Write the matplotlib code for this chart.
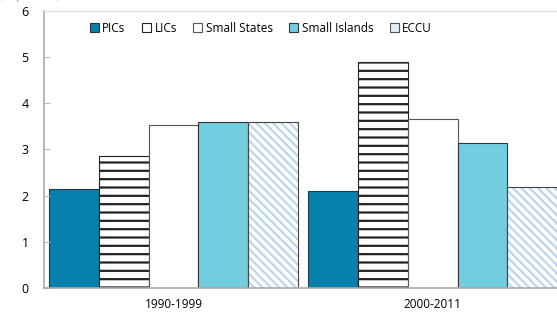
import numpy as np
import matplotlib.pyplot as plt
from matplotlib.patches import Patch

# data
periods = ['1990-1999', '2000-2011']
groups = ['PICs', 'LICs', 'Small States', 'Small Islands', 'ECCU']
pics = [2.15, 2.10]
lics = [2.85, 4.90]
small_states = [3.54, 3.65]
small_islands = [3.60, 3.15]
eccu = [3.59, 2.18]

plt.rcParams['font.family'] = ['Open Sans', 'DejaVu Sans']
plt.rcParams['hatch.linewidth'] = 1.6

fig = plt.figure(figsize=(5.57, 3.14), dpi=100)
ax = fig.add_axes([0.079, 0.083, 0.93, 0.882])

x = np.arange(len(periods))
w = 0.193
offs = (np.arange(5) - 2) * w

ax.bar(x + offs[0], pics, w, color='#0880AC', edgecolor='#1f3a48', lw=0.8)
ax.bar(x + offs[1], lics, w, color='white', edgecolor='#222222', hatch='--', lw=0.8)
ax.bar(x + offs[2], small_states, w, color='white', edgecolor='#555555', lw=0.8)
ax.bar(x + offs[3], small_islands, w, color='#72CEDF', edgecolor='#333333', lw=0.8)
# light blue hatch, then dark outline on top
ax.bar(x + offs[4], eccu, w, color='white', edgecolor='#BCD6EE', hatch='\\\\\\\\', lw=0)
ax.bar(x + offs[4], eccu, w, fill=False, edgecolor='#444444', lw=0.8)

ax.set_xlim(-0.5, 1.5)
ax.set_ylim(0, 6)
ax.set_yticks(range(7))
ax.set_xticks(x)
ax.set_xticklabels(periods)
ax.tick_params(axis='x', length=0, pad=7, labelsize=8.5)
ax.tick_params(axis='y', direction='in', length=4, color='#bbbbbb', labelsize=9, pad=11)
for s in ['left', 'bottom']:
    ax.spines[s].set_color('#aaaaaa')
    ax.spines[s].set_linewidth(1.2)
ax.spines['top'].set_color('#dddddd')
ax.spines['right'].set_visible(False)

handles = [
    Patch(facecolor='#0880AC', edgecolor='#1f3a48', lw=0.8),
    Patch(facecolor='white', edgecolor='#222222', lw=0.8),
    Patch(facecolor='white', edgecolor='#555555', lw=0.8),
    Patch(facecolor='#72CEDF', edgecolor='#333333', lw=0.8),
    Patch(facecolor='#E4EEF8', edgecolor='#555555', lw=0.8),
]
ax.legend(handles, groups, loc='upper left', bbox_to_anchor=(0.068, 1.0), ncol=5,
          frameon=False, fontsize=8.5, handlelength=0.75, handleheight=0.75,
          handletextpad=0.3, columnspacing=1.4)

fig.text(0.0, 1.012, '(In percent)', color='#4aa3d6', fontsize=8, va='center')

plt.savefig('out.png', dpi=100)
